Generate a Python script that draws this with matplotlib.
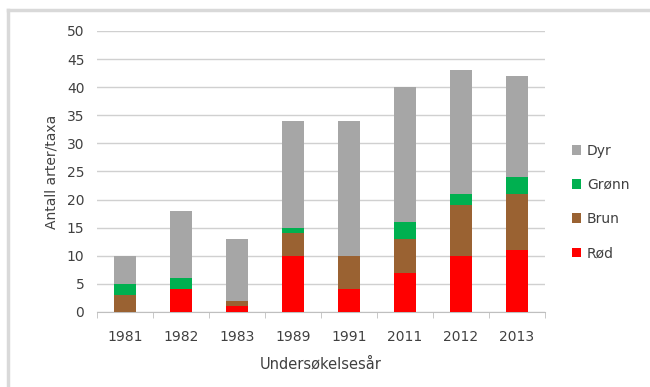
import numpy as np
import matplotlib.pyplot as plt
from matplotlib.lines import Line2D

# data
aar = ['1981', '1982', '1983', '1989', '1991', '2011', '2012', '2013']
rod = [0, 4, 1, 10, 4, 7, 10, 11]
brun = [3, 0, 1, 4, 6, 6, 9, 10]
gronn = [2, 2, 0, 1, 0, 3, 2, 3]
dyr = [5, 12, 11, 19, 24, 24, 22, 18]

serier = [('Rød', rod, '#ff0000'),
          ('Brun', brun, '#9a6232'),
          ('Grønn', gronn, '#00b050'),
          ('Dyr', dyr, '#a6a6a6')]

fig = plt.figure(figsize=(6.5, 3.87), dpi=100)
ax = fig.add_axes([0.149, 0.194, 0.689, 0.726])

x = np.arange(len(aar))
bunn = np.zeros(len(aar))
for navn, verdier, farge in serier:
    ax.bar(x, verdier, width=0.4, bottom=bunn, color=farge, label=navn, zorder=3)
    bunn += np.array(verdier)

ax.set_xlim(-0.5, len(aar) - 0.5)
ax.set_ylim(0, 50)
ax.set_yticks(range(0, 51, 5))
ax.grid(axis='y', color='#d0d0d0', linewidth=1, zorder=0)

# kategori-akse med tick mellom stolpene
ax.set_xticks(x)
ax.set_xticklabels(aar)
ax.set_xticks(np.arange(-0.5, len(aar)), minor=True)
ax.tick_params(axis='x', which='major', length=0, pad=13)
ax.tick_params(axis='x', which='minor', length=4, color='#bfbfbf', direction='out')
ax.tick_params(axis='y', length=0, pad=9)
ax.tick_params(labelsize=10, labelcolor='#404040')

for side in ['top', 'right', 'left']:
    ax.spines[side].set_visible(False)
ax.spines['bottom'].set_color('#bfbfbf')

ax.set_xlabel('Undersøkelsesår', fontsize=10.5, color='#404040', labelpad=9)
ax.set_ylabel('Antall arter/taxa', fontsize=10, color='#404040', labelpad=6)

h, l = ax.get_legend_handles_labels()
fig.legend(h[::-1], l[::-1], loc='center left', bbox_to_anchor=(0.86, 0.478),
           frameon=False, fontsize=10, handlelength=0.7, handleheight=0.7,
           labelspacing=1.45, handletextpad=0.4, labelcolor='#404040')

# lys ramme rundt diagrammet
fig.add_artist(Line2D([8 / 650, 1], [1 - 10 / 387] * 2, color='#d9d9d9', lw=2.5))
fig.add_artist(Line2D([8 / 650] * 2, [0, 1 - 10 / 387], color='#d9d9d9', lw=2.5))

fig.savefig('out.png', dpi=100)
